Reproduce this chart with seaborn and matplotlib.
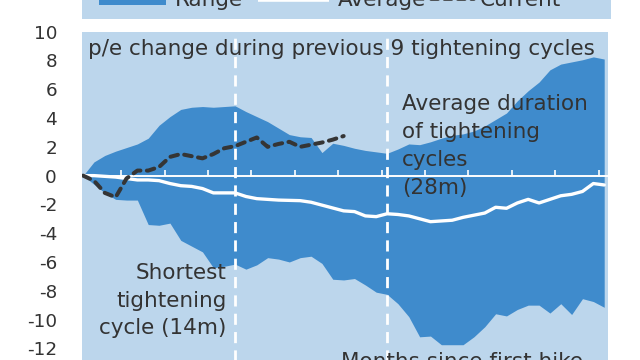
import numpy as np
import pandas as pd
import matplotlib
matplotlib.use("Agg")
import matplotlib.pyplot as plt
import seaborn as sns

# ---- data ----
months = list(range(0, 49))
range_upper = [0, 0.95, 1.4, 1.7, 1.95, 2.2, 2.6, 3.5, 4.1, 4.6, 4.75, 4.8, 4.75, 4.8, 4.85,
               4.45, 4.1, 3.75, 3.3, 2.85, 2.7, 2.65, 1.6, 2.25, 2.1, 1.9, 1.75, 1.65, 1.55,
               1.85, 2.2, 2.15, 2.35, 2.6, 2.8, 2.9, 3.1, 3.45, 3.9, 4.35, 5.2, 5.9, 6.5,
               7.35, 7.75, 7.9, 8.05, 8.25, 8.1]
range_lower = [0, -0.6, -1.2, -1.65, -1.7, -1.7, -3.4, -3.45, -3.3, -4.5, -4.9, -5.3, -6.4,
               -6.3, -6.15, -6.5, -6.2, -5.7, -5.8, -6.0, -5.7, -5.6, -6.1, -7.2, -7.25,
               -7.15, -7.6, -8.1, -8.25, -8.9, -9.8, -11.2, -11.15, -11.75, -11.75, -11.75,
               -11.2, -10.5, -9.6, -9.75, -9.3, -9.0, -9.0, -9.55, -8.9, -9.65, -8.55,
               -8.75, -9.15]
average = [0, 0, -0.05, -0.1, -0.2, -0.3, -0.3, -0.35, -0.55, -0.7, -0.75, -0.9, -1.2,
           -1.2, -1.2, -1.45, -1.6, -1.65, -1.7, -1.72, -1.74, -1.85, -2.05, -2.25, -2.45,
           -2.5, -2.8, -2.85, -2.65, -2.7, -2.8, -3.0, -3.2, -3.15, -3.1, -2.9, -2.75,
           -2.6, -2.2, -2.27, -1.9, -1.65, -1.9, -1.65, -1.4, -1.3, -1.1, -0.55, -0.65]
current_months = list(range(0, 25))
current = [0, -0.35, -1.2, -1.5, -0.2, 0.35, 0.35, 0.6, 1.3, 1.5, 1.35, 1.2, 1.5, 1.9,
           2.05, 2.35, 2.65, 2.0, 2.2, 2.35, 2.0, 2.15, 2.3, 2.5, 2.75]
cycle_marks = [14, 28]          # shortest and average tightening cycle (months)
tick_months = [m - 0.5 for m in range(4, 49, 4)]
y_ticks = list(range(-12, 11, 2))
legend_labels = ["Range", "Average", "Current"]
title_text = "p/e change during previous 9 tightening cycles"
note_avg = "Average duration\nof tightening\ncycles\n(28m)"
note_short = "Shortest\ntightening\ncycle (14m)"
xlabel_text = "Months since first hike"

# ---- style ----
LIGHT = "#bcd6ec"
DARK = "#3f8bcc"
TXT = "#333333"
CUR = "#353535"
FS = 15.5

sns.set_theme(style="white")
plt.rcParams["font.family"] = ["DejaVu Sans"]

fig = plt.figure(figsize=(6.4, 3.6), dpi=100)
fig.patch.set_facecolor("white")

# main panel: x 82..608 px, y=10 at 31.7px, axis extends below the figure
ax = fig.add_axes([82 / 640, 1 - 31.7 / 360 - 345.4 / 360, 526 / 640, 345.4 / 360])
ax.set_facecolor(LIGHT)
for s in ax.spines.values():
    s.set_visible(False)

df = pd.DataFrame({"month": months, "upper": range_upper, "lower": range_lower, "average": average})
dfc = pd.DataFrame({"month": current_months, "current": current})

ax.fill_between(df["month"], df["lower"], df["upper"], color=DARK, lw=0, zorder=1)
ax.axhline(0, color="white", lw=1.4, zorder=2)
ax.vlines(tick_months, 0, 0.42, color="white", lw=1.2, zorder=2)
for m in cycle_marks:
    ax.axvline(m, color="white", lw=2, dashes=(4, 2.6), zorder=2)

sns.lineplot(data=df, x="month", y="average", ax=ax, color="white", lw=2.4, zorder=3)
sns.lineplot(data=dfc, x="month", y="current", ax=ax, color=CUR, lw=2.9, zorder=4)
cur_line = ax.lines[-1]
cur_line.set_dashes((1.9, 1.6))
cur_line.set_dash_capstyle("round")

ax.set_xlim(-0.1, 48.35)
ax.set_ylim(-14, 10)
ax.set_yticks(y_ticks)
ax.set_yticklabels([str(v) for v in y_ticks])
ax.set_xticks([])
ax.tick_params(axis="y", length=0, pad=18, labelsize=13.2, labelcolor=TXT)
ax.set_xlabel("")
ax.set_ylabel("")

ax.text(0.45, 8.39, title_text, fontsize=FS, color=TXT, va="baseline", ha="left")
ax.text(29.35, 5.7, note_avg, fontsize=FS, color=TXT, va="top", ha="left", linespacing=1.5)
ax.text(13.2, -6.1, note_short, fontsize=FS, color=TXT, va="top", ha="right",
        linespacing=1.47, multialignment="right")
ax.text(23.75, -13.37, xlabel_text, fontsize=FS, color=TXT, va="baseline", ha="left")

# legend panel (partly above the figure)
lg = fig.add_axes([82 / 640, 1 - 19 / 360, 529 / 640, 44 / 360])
lg.set_facecolor(LIGHT)
lg.set_xlim(82, 611)
lg.set_ylim(19, -25)
lg.set_xticks([])
lg.set_yticks([])
for s in lg.spines.values():
    s.set_visible(False)
lg.fill_between([99, 166], [5.2, 5.2], [-14, -14], color=DARK, lw=0)
lg.plot([258, 329], [-0.4, -0.4], color="white", lw=2.6, solid_capstyle="butt")
lg.plot([431, 474], [-0.6, -0.6], color=CUR, lw=2.6, dashes=(2.0, 1.7), dash_capstyle="round")
lg.text(175, 5.5, legend_labels[0], fontsize=FS, color=TXT, va="baseline", ha="left")
lg.text(338, 5.5, legend_labels[1], fontsize=FS, color=TXT, va="baseline", ha="left")
lg.text(480, 5.5, legend_labels[2], fontsize=FS, color=TXT, va="baseline", ha="left")

fig.savefig("out.png", dpi=100, facecolor="white")
